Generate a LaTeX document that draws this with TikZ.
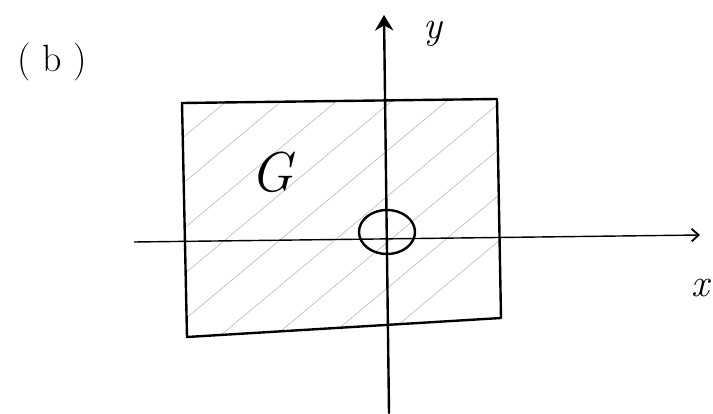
\documentclass[tikz,border=0pt]{standalone}
\usepackage{fix-cm}
\usetikzlibrary{arrows.meta}

\begin{document}
\begin{tikzpicture}[x=0.05cm,y=-0.05cm,
   trazo/.style={line width=3.4pt,line cap=round,line join=round},
   rayado/.style={black!30,line width=0.8pt},
   eje/.style={line width=2pt},
   letra/.style={inner sep=0pt,font=\fontsize{56}{56}\selectfont\itshape}]

  \useasboundingbox (0,0) rectangle (713,414);

  % esquinas de la region G
  \coordinate (ai) at (182,103);
  \coordinate (ad) at (497,99);
  \coordinate (bd) at (501,318);
  \coordinate (bi) at (187,337);

  % rayado
  \begin{scope}
    \clip (ai) -- (ad) -- (bd) -- (bi) -- cycle;
    \foreach \c in {-60,-5,...,380}
      \draw[rayado] (\c,340) -- ++(300,-250);
  \end{scope}
  \draw[trazo] (ai) -- (ad) -- (bd) -- (bi) -- cycle;

  % ejes
  \coordinate (xa) at (134,242);
  \coordinate (xb) at (700,235);
  \coordinate (ya) at (389,413);
  \coordinate (yb) at (384,15);
  \draw[eje,-{Straight Barb[length=10pt,width=18pt,line width=2.6pt]}] (xa) -- (xb);
  \draw[trazo,-{Stealth[length=22pt,width=26pt]}] (ya) -- (yb);

  % agujero en el origen
  \draw[trazo] (387,232) ellipse [x radius=28,y radius=22];

  % rotulos
  \node[letra,font=\fontsize{54}{54}\selectfont] (rb) at (52,62)
    {(\hspace{0.3em}b\hspace{0.3em})};
  \node[letra,font=\fontsize{80}{80}\selectfont\itshape] (rG) at (272,172) {G};
  \node[letra] (ry) at (433,34) {y};
  \node[letra] (rx) at (700,288) {x};
\end{tikzpicture}
\end{document}
